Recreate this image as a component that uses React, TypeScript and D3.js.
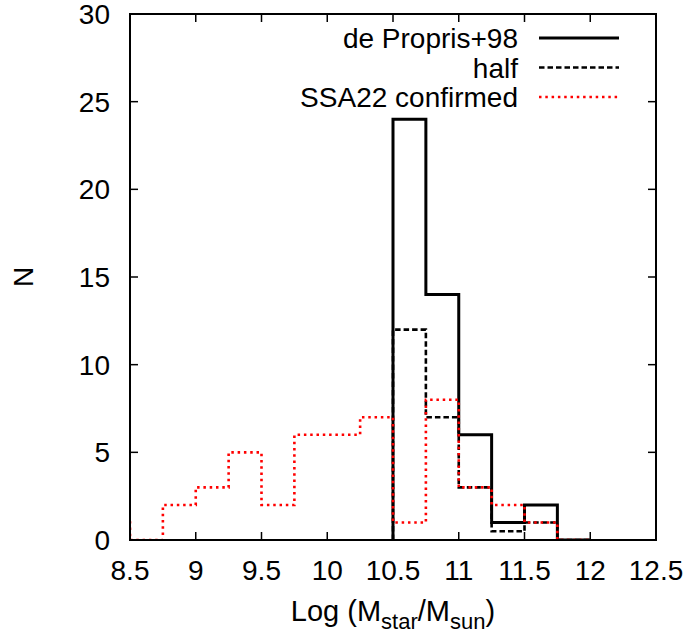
import React from "react";
import * as d3 from "d3";

const binEdges = [8.25, 8.5, 8.75, 9, 9.25, 9.5, 9.75, 10, 10.25, 10.5, 10.75, 11, 11.25, 11.5, 11.75, 12];
const dePropris = [0, 0, 0, 0, 0, 0, 0, 0, 0, 24, 14, 6, 1, 2, 0];
const half = [0, 0, 0, 0, 0, 0, 0, 0, 0, 12, 7, 3, 0.5, 1, 0];
const ssa22 = [1, 0, 2, 3, 5, 2, 6, 6, 7, 1, 8, 3, 2, 1, 0];
const xTicks = [8.5, 9, 9.5, 10, 10.5, 11, 11.5, 12, 12.5];
const xTickLabels = ["8.5", "9", "9.5", "10", "10.5", "11", "11.5", "12", "12.5"];
const yTicks = [0, 5, 10, 15, 20, 25, 30];
const seriesNames = ["de Propris+98", "half", "SSA22 confirmed"];

const W = 692, H = 637;
const L = 130, R = 656, T = 14, B = 540;
const FONT = "'Liberation Sans', Arial, sans-serif";

export default function App() {
  const x = d3.scaleLinear().domain([8.5, 12.5]).range([L, R]);
  const y = d3.scaleLinear().domain([0, 30]).range([B, T]);

  const stepPath = (vals: number[], startFromZero: boolean) => {
    const pts: [number, number][] = [];
    vals.forEach((v, i) => {
      pts.push([binEdges[i], v]);
      pts.push([binEdges[i + 1], v]);
    });
    let p = pts;
    if (startFromZero) {
      const first = vals.findIndex((v) => v > 0);
      p = [[binEdges[first], 0], ...pts.slice(first * 2)];
    }
    const line = d3.line<[number, number]>().x((d) => x(d[0])).y((d) => y(d[1]));
    return line(p) || "";
  };

  const series = [
    { name: seriesNames[0], vals: dePropris, stroke: "#000", dash: "none", width: 3, fromZero: true },
    { name: seriesNames[1], vals: half, stroke: "#000", dash: "5.5,3", width: 2.6, fromZero: true },
    { name: seriesNames[2], vals: ssa22, stroke: "#ff0000", dash: "2.5,3.8", width: 2.6, fromZero: false },
  ];

  return (
    <svg width={W} height={H} style={{ position: "absolute", left: 0, top: 0 }} fontFamily={FONT}>
      <rect width={W} height={H} fill="#fff" />
      <defs>
        <clipPath id="plot">
          <rect x={L} y={T} width={R - L} height={B - T} />
        </clipPath>
      </defs>
      {xTicks.map((t, i) => (
        <g key={"x" + i}>
          <line x1={x(t)} x2={x(t)} y1={B} y2={B - 8} stroke="#000" strokeWidth={1.5} />
          <line x1={x(t)} x2={x(t)} y1={T} y2={T + 8} stroke="#000" strokeWidth={1.5} />
          <text x={x(t)} y={B + 40} fontSize={28} textAnchor="middle" fill="#000">{xTickLabels[i]}</text>
        </g>
      ))}
      {yTicks.map((t, i) => (
        <g key={"y" + i}>
          <line x1={L} x2={L + 8} y1={y(t)} y2={y(t)} stroke="#000" strokeWidth={1.5} />
          <line x1={R} x2={R - 8} y1={y(t)} y2={y(t)} stroke="#000" strokeWidth={1.5} />
          <text x={110} y={y(t) + 10} fontSize={28} textAnchor="end" fill="#000">{t}</text>
        </g>
      ))}
      <g clipPath="url(#plot)">
        {series.map((s, i) => (
          <path key={i} d={stepPath(s.vals, s.fromZero)} fill="none" stroke={s.stroke}
            strokeWidth={s.width} strokeDasharray={s.dash} />
        ))}
      </g>
      <rect x={L} y={T} width={R - L} height={B - T} fill="none" stroke="#000" strokeWidth={2} />
      {series.map((s, i) => {
        const yy = 38 + i * 29.5;
        return (
          <g key={"lg" + i}>
            <text x={518} y={yy + 10} fontSize={28} textAnchor="end" fill="#000">{s.name}</text>
            <line x1={539} x2={619} y1={yy} y2={yy} stroke={s.stroke} strokeWidth={s.width} strokeDasharray={s.dash} />
          </g>
        );
      })}
      <text transform={`translate(33,277) rotate(-90)`} fontSize={28} textAnchor="middle" fill="#000">N</text>
      <text x={393} y={621} fontSize={29} textAnchor="middle" fill="#000">
        Log (M<tspan fontSize={22} dy={8}>star</tspan><tspan dy={-8}>/M</tspan><tspan fontSize={22} dy={8}>sun</tspan><tspan dy={-8}>)</tspan>
      </text>
    </svg>
  );
}
